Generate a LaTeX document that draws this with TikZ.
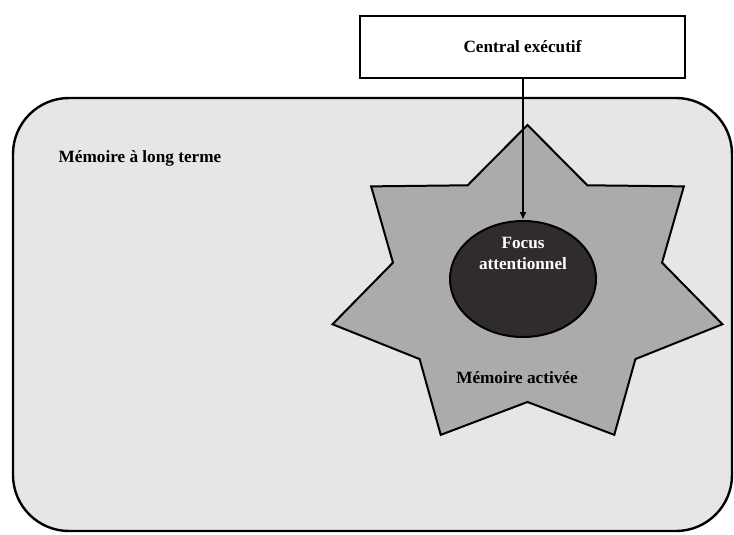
\documentclass[tikz,border=0pt]{standalone}
\usepackage{fontspec}
\setmainfont{Liberation Serif}
\usetikzlibrary{arrows.meta,shapes.geometric}
\definecolor{ltmgray}{HTML}{E6E6E6}
\definecolor{stargray}{HTML}{ABABAB}
\definecolor{focusgray}{HTML}{302C2C}

\begin{document}
\begin{tikzpicture}[x=0.5pt,y=-0.5pt,
	lbl/.style={font=\fontsize{8.6}{10.5}\selectfont\bfseries, align=center, inner sep=0pt},
	ltmbox/.style={draw, line width=1.2pt, fill=ltmgray, rounded corners=28pt, minimum width=359.5pt, minimum height=216.5pt},
	cebox/.style={draw, line width=1.3pt, fill=white, minimum width=162.5pt, minimum height=31pt},
	memstar/.style={draw, line width=1pt, fill=stargray, line join=miter},
	focus/.style={ellipse, draw, line width=1pt, fill=focusgray, minimum width=73pt, minimum height=58pt}]
\useasboundingbox (0,0) rectangle (734,535);
\node [ltmbox] (ltm) at (372.5,314.5) {};
\node [lbl] (ltmlbl) at (140,158) {Mémoire à long terme};
\node [cebox, lbl, inner sep=0pt] (central) at (522.5,47) {Central exécutif};
% activated memory
\begin{scope}[shift={(527.5,288)}]
\draw [memstar] (90:100pt and 81.5pt)
	\foreach \k in {1,...,7} {-- ({90+(\k-0.5)*360/7}:69pt and 57pt) -- ({90+\k*360/7}:100pt and 81.5pt)} -- cycle;
\end{scope}
\node [lbl] (actlbl) at (517,378) {Mémoire activée};
\node [focus] (foc) at (523,279) {};
\node [lbl, text=white] (foclbl) at ([yshift=13pt]foc.center) {Focus\\attentionnel};
\draw [line width=1pt, -{Latex[length=4pt,width=3.5pt]}] (central.south -| foc.north) -- (foc.north);
\end{tikzpicture}
\end{document}
